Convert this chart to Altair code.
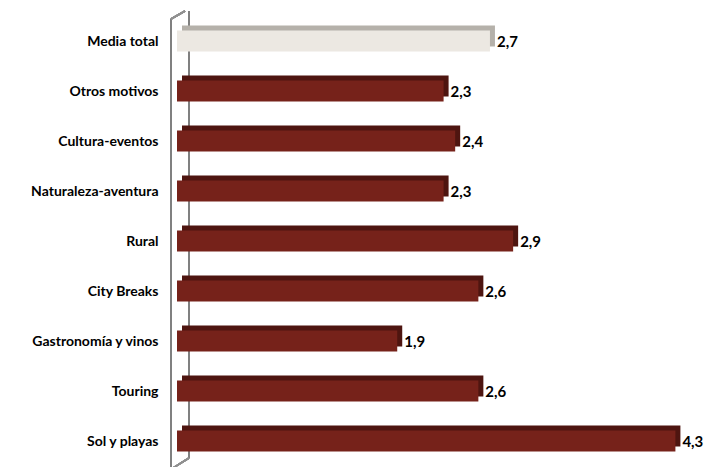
import altair as alt
import pandas as pd

categories = ["Media total", "Otros motivos", "Cultura-eventos", "Naturaleza-aventura",
              "Rural", "City Breaks", "Gastronomía y vinos", "Touring", "Sol y playas"]
values = [2.7, 2.3, 2.4, 2.3, 2.9, 2.6, 1.9, 2.6, 4.3]
labels = ["2,7", "2,3", "2,4", "2,3", "2,9", "2,6", "1,9", "2,6", "4,3"]

df = pd.DataFrame({"cat": categories, "val": values, "lab": labels})

W, H = 510, 450
x = alt.X("val:Q", scale=alt.Scale(domain=[0, 4.4], nice=False), axis=None)
y = alt.Y("cat:N", sort=categories, scale=alt.Scale(paddingInner=0, paddingOuter=0),
          axis=alt.Axis(title=None, ticks=False, domain=False, labelPadding=19,
                        labelFont="Lato", labelFontWeight="bold", labelFontSize=14,
                        labelColor="#000000"))
is_total = alt.datum.cat == "Media total"

back = alt.Chart(df).mark_bar(size=21, xOffset=5, yOffset=-6).encode(
    x=x, y=y,
    color=alt.condition(is_total, alt.value("#b5b1aa"), alt.value("#4e1510")))
front = alt.Chart(df).mark_bar(size=21, yOffset=-1).encode(
    x=x, y=y,
    color=alt.condition(is_total, alt.value("#ece8e2"), alt.value("#76221a")))
text = alt.Chart(df).mark_text(align="left", dx=7, dy=0, font="Lato",
                               fontWeight="bold", fontSize=15, color="#000000").encode(
    x=x, y=y, text="lab:N")

frontline = alt.Chart(df).mark_rule(color="#808080", strokeWidth=1.5).encode(
    x=alt.value(-6), y=alt.value(2), y2=alt.value(H + 1))
backline = alt.Chart(df).mark_rule(color="#808080", strokeWidth=1.5).encode(
    x=alt.value(12), y=alt.value(-6), y2=alt.value(H - 9))
topdiag = alt.Chart(df).mark_rule(color="#909090", strokeWidth=1.5).encode(
    x=alt.value(-6), x2=alt.value(8), y=alt.value(2), y2=alt.value(-6))
botdiag = alt.Chart(df).mark_rule(color="#909090", strokeWidth=1.5).encode(
    x=alt.value(-4), x2=alt.value(12), y=alt.value(H + 1), y2=alt.value(H - 9))

chart = alt.layer(frontline, backline, topdiag, botdiag, back, front, text).properties(
    width=W, height=H,
    autosize=alt.AutoSizeParams(type="none"),
    padding={"left": 169, "top": 9, "right": 18, "bottom": 0},
).configure_view(stroke=None)

chart.save("out.html", embed_options={"renderer": "svg", "actions": False})
